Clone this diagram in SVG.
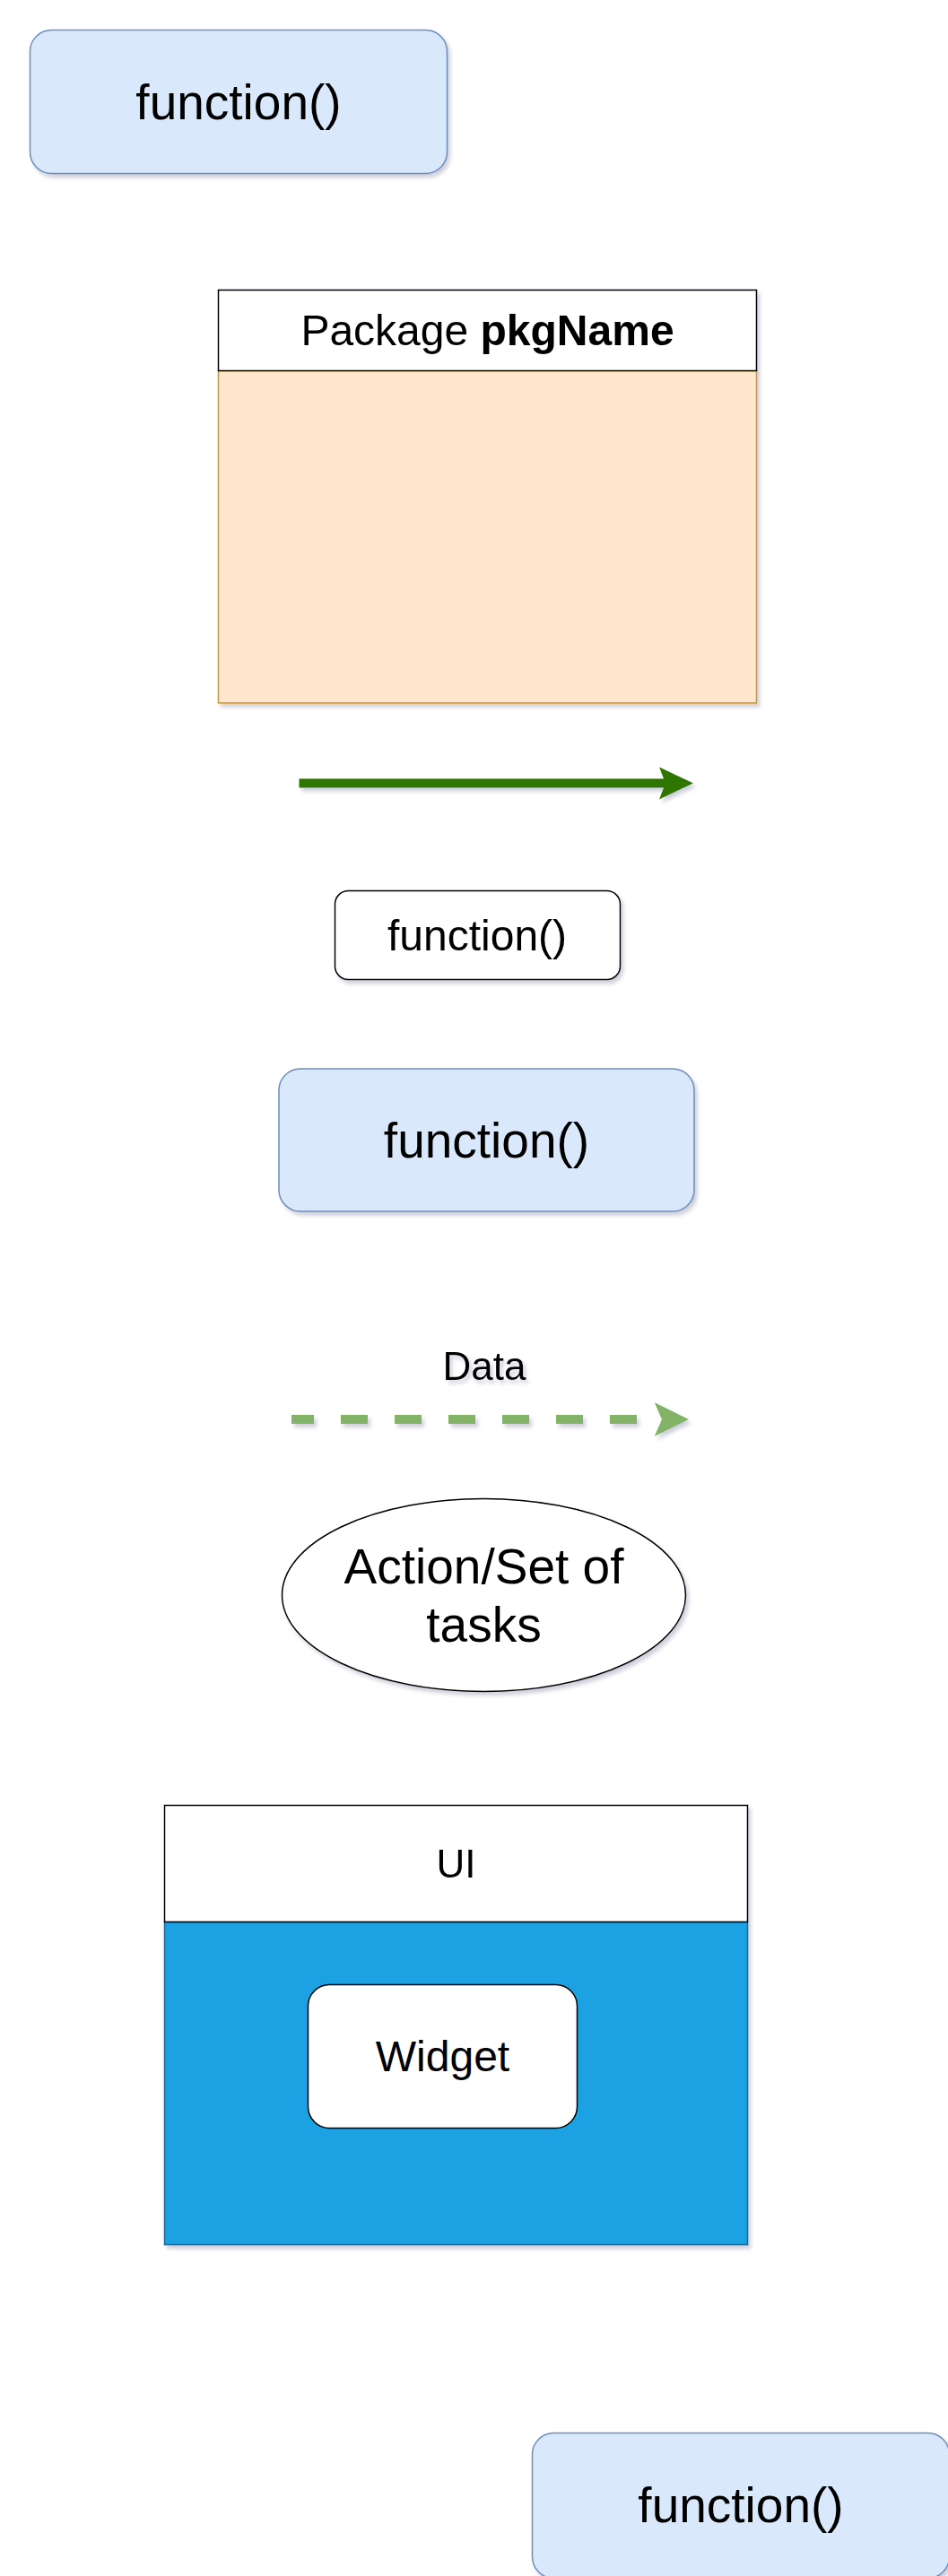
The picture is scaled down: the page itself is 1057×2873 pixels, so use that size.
<svg xmlns="http://www.w3.org/2000/svg" width="1057" height="2873" viewBox="0 0 1057 2873">
  <defs>
    <style>
      text { font-family: "Liberation Sans", Arial, sans-serif; fill: #000000; text-anchor: middle; }
      .big { font-size: 55px; }
      .mid { font-size: 48px; }
      .sm { font-size: 44px; }
      .fn { fill: #dae8fc; stroke: #6c8ebf; stroke-width: 1.5; }
      .plain { fill: #ffffff; stroke: #000000; stroke-width: 1.5; }
    </style>
    <filter id="shadow" x="-10%" y="-10%" width="125%" height="130%">
      <feDropShadow dx="3" dy="4" stdDeviation="2" flood-color="#7a7a9a" flood-opacity="0.35"/>
    </filter>
    <marker id="headSolid" markerUnits="userSpaceOnUse" markerWidth="40" markerHeight="38" refX="7" refY="18" orient="auto">
      <path d="M0,0 L38,18 L0,36 L7,18 Z" fill="#2d7600"/>
    </marker>
    <marker id="headData" markerUnits="userSpaceOnUse" markerWidth="40" markerHeight="40" refX="8.3" refY="19" orient="auto">
      <path d="M0,0 L38.2,19 L0,38 L8.3,19 Z" fill="#82b366"/>
    </marker>
  </defs>

  <rect width="1057" height="2873" fill="#ffffff"/>

  <g id="function-top" filter="url(#shadow)">
    <rect class="fn" x="33.5" y="33.5" width="465" height="160" rx="24" ry="24"/>
    <text class="big" x="266" y="133">function()</text>
  </g>

  <g id="package" filter="url(#shadow)">
    <rect x="243.5" y="413.5" width="600" height="370.5" fill="#ffe6cc" stroke="#d79b00" stroke-width="1.5"/>
    <rect x="243.5" y="323.5" width="600" height="90" fill="#ffffff" stroke="#000000" stroke-width="1.5"/>
    <text class="mid" x="543.5" y="385">Package <tspan font-weight="bold">pkgName</tspan></text>
  </g>

  <g id="function-small" filter="url(#shadow)">
    <rect class="plain" x="373.5" y="993.5" width="318" height="99" rx="15" ry="15"/>
    <text class="mid" x="532" y="1060">function()</text>
  </g>

  <g id="function-mid" filter="url(#shadow)">
    <rect class="fn" x="311" y="1192" width="463" height="159" rx="24" ry="24"/>
    <text class="big" x="542.5" y="1291">function()</text>
  </g>

  <g id="action" filter="url(#shadow)">
    <ellipse cx="539.5" cy="1779" rx="225" ry="107.5" fill="#ffffff" stroke="#000000" stroke-width="1.5"/>
    <text class="big" x="539.5" y="1766">Action/Set of</text>
    <text class="big" x="539.5" y="1831">tasks</text>
  </g>

  <g id="ui" filter="url(#shadow)">
    <rect x="183.5" y="2143.5" width="650" height="360" fill="#1ba1e2" stroke="#006eaf" stroke-width="1.5"/>
    <rect x="183.5" y="2013.5" width="650" height="130" fill="#ffffff" stroke="#000000" stroke-width="1.5"/>
    <text class="sm" x="508.5" y="2094">UI</text>
  </g>

  <g id="widget">
    <rect class="plain" x="343.5" y="2213.5" width="300" height="160" rx="24" ry="24"/>
    <text class="mid" x="493.5" y="2310">Widget</text>
  </g>

  <g id="function-bottom" filter="url(#shadow)">
    <rect class="fn" x="593.5" y="2713.5" width="465" height="162" rx="24" ry="24"/>
    <text class="big" x="826" y="2813">function()</text>
  </g>

  <g id="connectors" filter="url(#shadow)">
    <line x1="333.5" y1="873.5" x2="742" y2="873.5" stroke="#2d7600" stroke-width="10" marker-end="url(#headSolid)"/>
    <line x1="325" y1="1583" x2="738" y2="1583" stroke="#82b366" stroke-width="10" stroke-dasharray="30 30" stroke-dashoffset="5" marker-end="url(#headData)"/>
    <text class="sm" x="540" y="1539">Data</text>
  </g>
</svg>
